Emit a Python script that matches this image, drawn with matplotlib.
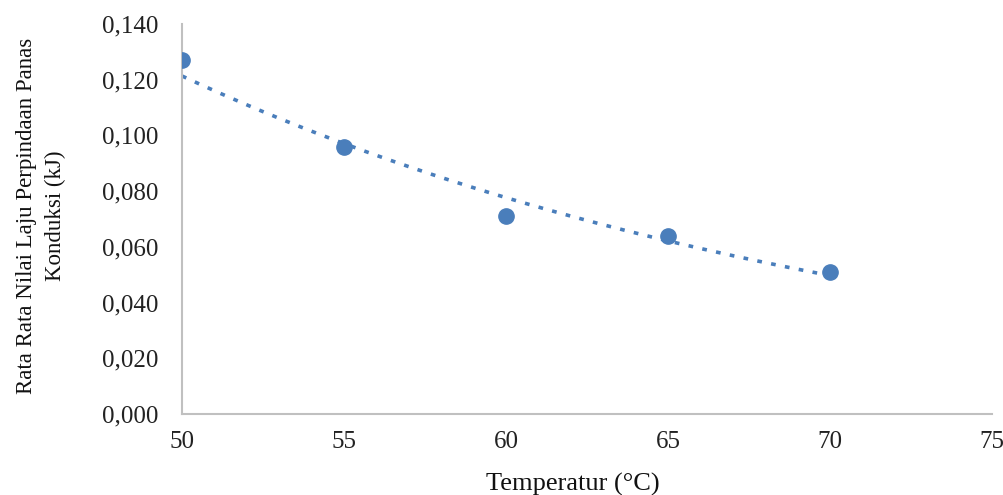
import numpy as np
import matplotlib.pyplot as plt

# data
suhu = [50, 55, 60, 65, 70]
laju = [0.127, 0.096, 0.071, 0.064, 0.051]
x_ticks = [50, 55, 60, 65, 70, 75]
y_ticks = [0.0, 0.02, 0.04, 0.06, 0.08, 0.10, 0.12, 0.14]

plt.rcParams['font.family'] = ['Liberation Serif', 'DejaVu Serif']

fig = plt.figure(figsize=(10.04, 4.95), dpi=100)
ax = fig.add_axes([0.1813, 0.1636, 0.8067, 0.788])

blue = '#4a7ebb'

# exponential trendline (Excel style)
b, a = np.polyfit(suhu, np.log(laju), 1)
xt = np.linspace(min(suhu), max(suhu), 200)
ax.plot(xt, np.exp(a + b * xt), color=blue, lw=2.6,
        linestyle=(0, (1.3, 2.6)), zorder=2)

ax.plot(suhu, laju, 'o', color=blue, markersize=11, zorder=3)

ax.set_xlim(50, 75)
ax.set_ylim(0, 0.14)
ax.set_xticks(x_ticks)
ax.set_yticks(y_ticks)
ax.set_yticklabels([f'{v:.3f}'.replace('.', ',') for v in y_ticks])
ax.tick_params(length=0, labelsize=18, colors='#404040', labelcolor='#222222')
ax.tick_params(axis='y', pad=17)
ax.tick_params(axis='x', pad=12)

for s in ['top', 'right']:
    ax.spines[s].set_visible(False)
for s in ['left', 'bottom']:
    ax.spines[s].set_color('#c0c0c0')
    ax.spines[s].set_linewidth(1.5)

fig.text(573 / 1004, 1 - 484 / 495, 'Temperatur (°C)', fontsize=19,
         ha='center', va='center', color='#111111')
fig.text(41 / 1004, 1 - 216 / 495,
         'Rata Rata Nilai Laju Perpindaan Panas\nKonduksi (kJ)',
         fontsize=16.5, rotation=90, ha='center', va='center',
         multialignment='center', linespacing=1.45, color='#111111')

fig.savefig('out.png', dpi=100)
